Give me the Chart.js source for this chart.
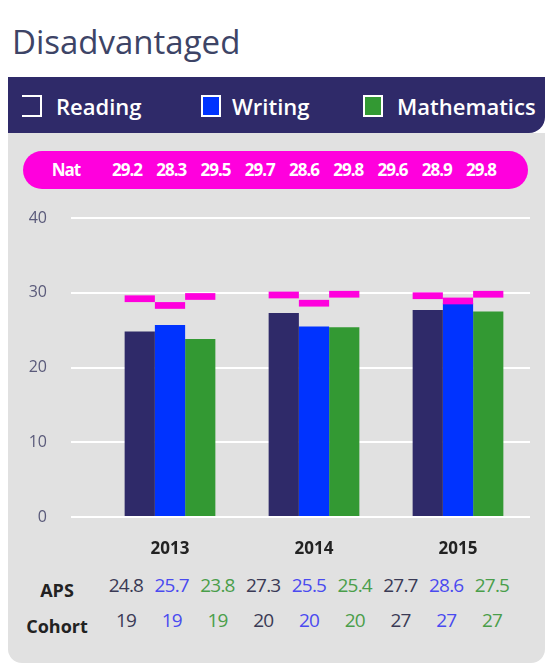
<!DOCTYPE html>
<html>
<head>
<meta charset="utf-8">
<script src="https://cdn.jsdelivr.net/npm/chart.js@4"></script>
<style>
  body { margin:0; background:#fff; font-family:'Open Sans', sans-serif; }
  #wrap { position:relative; width:554px; height:672px; overflow:hidden; }
  .abs { position:absolute; }
  #title { left:12px; top:20px; font-size:33px; color:#3d4466; line-height:44px; }
  #legend { left:8px; top:77px; width:537px; height:56px; background:#2f2a69; border-radius:0 0 16px 0; }
  #panel { left:8px; top:133px; width:537px; height:530px; background:#e1e1e1; border-radius:0 0 14px 14px; }
  .lbox { width:20px; height:22px; border:2px solid #fff; box-sizing:border-box; }
  .ltxt { color:#fff; font-size:22px; font-weight:600; line-height:30px; }
  #pill { left:23px; top:151px; width:505px; height:38px; background:#ff00dd; border-radius:19px; }
  .cell { transform:translateX(-50%); white-space:nowrap; letter-spacing:-1px; }
  .nat { color:#fff; font-weight:700; font-size:17px; line-height:20px; top:160px; }
  .row { font-size:19px; line-height:22px; letter-spacing:-0.8px; }
  .rowlab { font-weight:700; color:#222; font-size:18px; letter-spacing:0; }
  canvas { position:absolute; left:0; top:0; }
</style>
</head>
<body>
<div id="wrap">
  <div id="title" class="abs">Disadvantaged</div>
  <div id="panel" class="abs"></div>
  <div id="legend" class="abs"></div>
  <div class="abs lbox" style="left:22px;top:95px;background:#2f2a69;border-left:none;"></div>
  <div class="abs ltxt" style="left:56px;top:91px;">Reading</div>
  <div class="abs lbox" style="left:201px;top:95px;background:#0033ff;"></div>
  <div class="abs ltxt" style="left:232px;top:91px;">Writing</div>
  <div class="abs lbox" style="left:363px;top:95px;background:#339933;"></div>
  <div class="abs ltxt" style="left:397px;top:91px;">Mathematics</div>
  <div id="pill" class="abs"></div>
  <div id="rows"></div>
  <canvas id="chart" width="554" height="672"></canvas>
</div>
<script>
const years = ['2013', '2014', '2015'];
const reading = [24.8, 27.3, 27.7];
const writing = [25.7, 25.5, 28.6];
const maths = [23.8, 25.4, 27.5];
const natReading = [29.2, 29.7, 29.6];
const natWriting = [28.3, 28.6, 28.9];
const natMaths = [29.5, 29.8, 29.8];
const cohort = [19, 20, 27];

const cReading = '#2f2a69', cWriting = '#0033ff', cMaths = '#339933', cNat = '#ff00dd';
const tReading = '#3a3a55', tWriting = '#4a4af0', tMaths = '#4a9e4a';

// text rows: Nat pill, APS, Cohort
const rows = document.getElementById('rows');
function put(txt, x, y, cls, color) {
  const d = document.createElement('div');
  d.className = 'abs cell ' + cls;
  d.style.left = x + 'px';
  d.style.top = y + 'px';
  if (color) d.style.color = color;
  d.textContent = txt;
  rows.appendChild(d);
}
put('Nat', 66, 160, 'nat');
put('APS', 57, 579, 'row rowlab');
put('Cohort', 57, 615, 'row rowlab');
const cols = [];
years.forEach((y, i) => {
  cols.push([natReading[i], reading[i], cohort[i], tReading]);
  cols.push([natWriting[i], writing[i], cohort[i], tWriting]);
  cols.push([natMaths[i], maths[i], cohort[i], tMaths]);
});
cols.forEach((c, k) => {
  put(c[0].toFixed(1), 127 + 44.25 * k, 160, 'nat');
  put(c[1].toFixed(1), 126 + 45.75 * k, 574, 'row', c[3]);
  put(String(c[2]), 126 + 45.75 * k, 609, 'row', c[3]);
});

Chart.defaults.font.family = "'Open Sans', sans-serif";
const marker = v => [v - 0.45, v + 0.45];

new Chart(document.getElementById('chart'), {
  type: 'bar',
  data: {
    labels: years,
    datasets: [
      { label: 'Nat Reading', data: natReading.map(marker), backgroundColor: cNat, stack: 'r', order: 0 },
      { label: 'Nat Writing', data: natWriting.map(marker), backgroundColor: cNat, stack: 'w', order: 0 },
      { label: 'Nat Mathematics', data: natMaths.map(marker), backgroundColor: cNat, stack: 'm', order: 0 },
      { label: 'Reading', data: reading, backgroundColor: cReading, stack: 'r', order: 1 },
      { label: 'Writing', data: writing, backgroundColor: cWriting, stack: 'w', order: 1 },
      { label: 'Mathematics', data: maths, backgroundColor: cMaths, stack: 'm', order: 1 },
    ]
  },
  options: {
    responsive: false,
    animation: false,
    devicePixelRatio: 1,
    categoryPercentage: 0.63,
    barPercentage: 1,
    layout: { padding: { left: 8, top: 218, right: 24, bottom: 95 } },
    plugins: { legend: { display: false }, tooltip: { enabled: false } },
    scales: {
      x: {
        grid: { display: false, drawTicks: false }, border: { display: false },
        ticks: { padding: 22, color: '#222', font: { size: 17, weight: 'bold' } },
        afterFit(a) { a.height = 60; }
      },
      y: {
        min: 0, max: 40, stacked: false,
        grid: { color: '#ffffff', lineWidth: 2, tickLength: 27 },
        border: { display: false },
        ticks: { stepSize: 10, padding: 24, color: '#5a5a7a', font: { size: 16 } },
        afterFit(a) { a.width = 90; }
      }
    }
  }
});
</script>
</body>
</html>
